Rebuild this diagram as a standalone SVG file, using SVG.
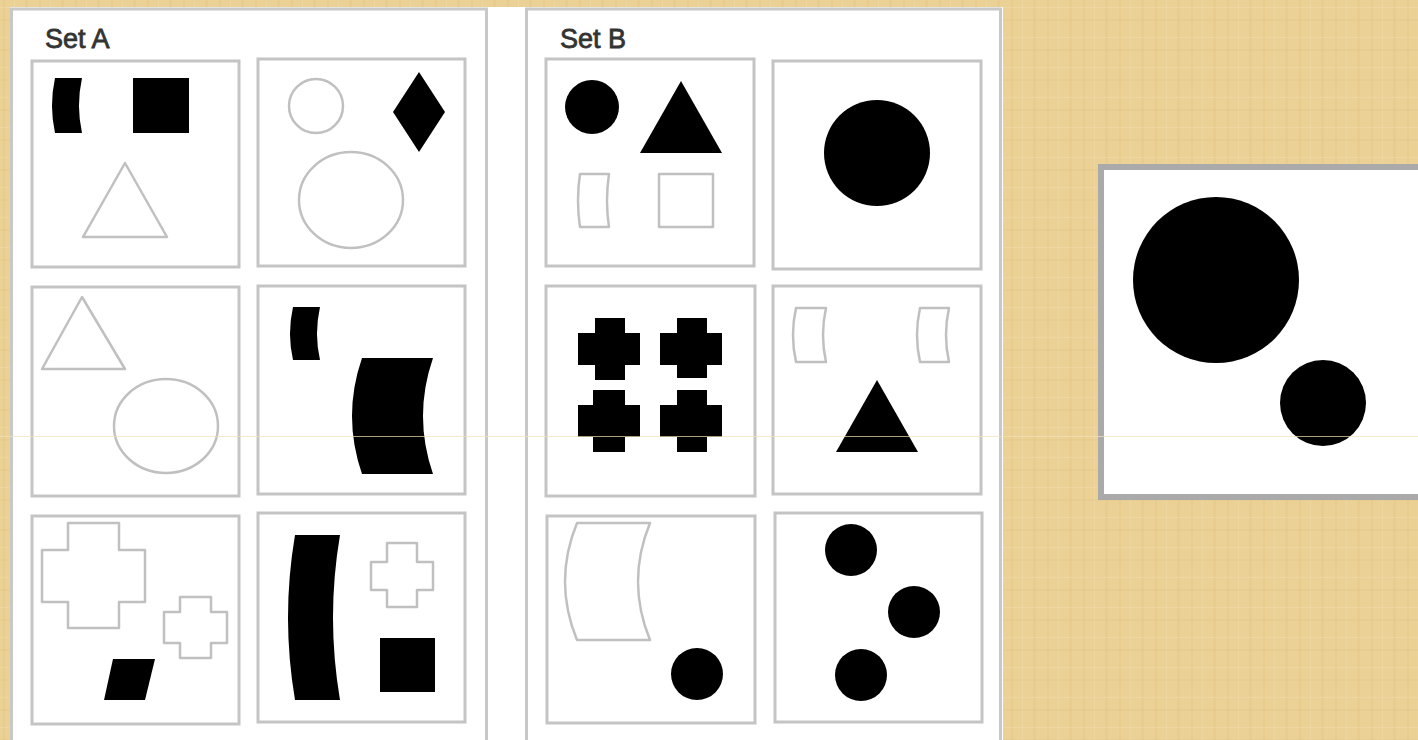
<svg xmlns="http://www.w3.org/2000/svg" width="1418" height="740" viewBox="0 0 1418 740">
<defs>
<pattern id="weave" x="0" y="0" width="36" height="30" patternUnits="userSpaceOnUse">
<rect width="36" height="30" fill="#ebd196"/>
<rect x="3" y="0" width="2" height="30" fill="#e2c27c" opacity="0.35"/>
<rect x="14" y="0" width="1" height="30" fill="#f3dcab" opacity="0.45"/>
<rect x="25" y="0" width="3" height="30" fill="#dfbf7c" opacity="0.25"/>
<rect x="0" y="7" width="36" height="1" fill="#f5dfb4" opacity="0.35"/>
<rect x="0" y="19" width="36" height="2" fill="#e0c080" opacity="0.25"/>
</pattern>
<style>
.panel{fill:none;stroke:#c8c8c8;stroke-width:3}
.cell{fill:#ffffff;stroke:#c4c4c4;stroke-width:3}
.blk{fill:#000000}
.out{fill:none;stroke:#c0c0c0;stroke-width:2.5;stroke-linejoin:round}
.title{font-family:"Liberation Sans",Arial,sans-serif;font-size:27px;fill:#333333;stroke:#333333;stroke-width:0.8}
</style>
</defs>
<rect width="1418" height="740" fill="url(#weave)"/>
<rect x="10" y="7" width="993" height="740" fill="#ffffff"/>

<g id="setA">
<rect class="panel" x="11.5" y="9" width="475" height="740"/>
<text class="title" x="45" y="48">Set A</text>
<g id="a1">
<rect class="cell" x="32" y="61" width="207" height="206"/>
<path class="blk" d="M55,78 H82 Q76,105.5 82,133 H55 Q49,105.5 55,78 Z"/>
<rect class="blk" x="133" y="78" width="56" height="55"/>
<polygon class="out" points="125,163 167,237 83,237"/>
</g>
<g id="a2">
<rect class="cell" x="258" y="59" width="207" height="207"/>
<circle class="out" cx="316" cy="106" r="27"/>
<polygon class="blk" points="419,72 445,112 419,152 393,112"/>
<ellipse class="out" cx="351" cy="200" rx="52" ry="48"/>
</g>
<g id="a3">
<rect class="cell" x="32" y="287" width="207" height="209"/>
<polygon class="out" points="82,297 125,369 42,369"/>
<ellipse class="out" cx="166" cy="426" rx="52" ry="47"/>
</g>
<g id="a4">
<rect class="cell" x="258" y="286" width="207" height="208"/>
<path class="blk" d="M293,307 H320 Q314,333.5 320,360 H293 Q287,333.5 293,307 Z"/>
<path class="blk" d="M362,358 H433 Q413,416 433,474 H362 Q342,416 362,358 Z"/>
</g>
<g id="a5">
<rect class="cell" x="32" y="516" width="207" height="208"/>
<polygon class="out" points="68,523 119,523 119,550 145,550 145,602 119,602 119,628 68,628 68,602 42,602 42,550 68,550"/>
<polygon class="out" points="180,597 211,597 211,612 227,612 227,643 211,643 211,658 180,658 180,643 164,643 164,612 180,612"/>
<polygon class="blk" points="113,659 155,659 145,700 104,700"/>
</g>
<g id="a6">
<rect class="cell" x="258" y="513" width="207" height="209"/>
<path class="blk" d="M295,535 H340 Q326,617.5 340,700 H295 Q281,617.5 295,535 Z"/>
<polygon class="out" points="387,543 417,543 417,562 433,562 433,590 417,590 417,607 387,607 387,590 371,590 371,562 387,562"/>
<rect class="blk" x="380" y="638" width="55" height="54"/>
</g>
</g>

<g id="setB">
<rect class="panel" x="526.5" y="9" width="474" height="740"/>
<text class="title" x="560" y="48">Set B</text>
<g id="b1">
<rect class="cell" x="546" y="59" width="208" height="207"/>
<circle class="blk" cx="592" cy="107" r="27"/>
<polygon class="blk" points="681,81 722,153 640,153"/>
<path class="out" d="M580,174 H609 Q605,200.5 609,227 H580 Q576,200.5 580,174 Z"/>
<rect class="out" x="659" y="174" width="54" height="53"/>
</g>
<g id="b2">
<rect class="cell" x="773" y="61" width="208" height="208"/>
<circle class="blk" cx="877" cy="153" r="53"/>
</g>
<g id="b3">
<rect class="cell" x="546" y="286" width="209" height="210"/>
<polygon class="blk" points="595,318 625,318 625,333 640,333 640,365 625,365 625,380 595,380 595,365 578,365 578,333 595,333"/>
<polygon class="blk" points="677,318 707,318 707,333 722,333 722,365 707,365 707,378 677,378 677,365 660,365 660,333 677,333"/>
<polygon class="blk" points="593,390 625,390 625,405 640,405 640,437 625,437 625,452 593,452 593,437 578,437 578,405 593,405"/>
<polygon class="blk" points="677,390 707,390 707,405 722,405 722,437 707,437 707,452 677,452 677,437 660,437 660,405 677,405"/>
</g>
<g id="b4">
<rect class="cell" x="773" y="286" width="208" height="208"/>
<path class="out" d="M796,308 H826 Q820,335 826,362 H796 Q790,335 796,308 Z"/>
<path class="out" d="M920,308 H949 Q943,335 949,362 H920 Q914,335 920,308 Z"/>
<polygon class="blk" points="877,380 918,452 836,452"/>
</g>
<g id="b5">
<rect class="cell" x="547" y="516" width="208" height="207"/>
<path class="out" d="M577,523 H650 Q626,581.5 650,640 H577 Q553,581.5 577,523 Z"/>
<circle class="blk" cx="697" cy="674" r="26"/>
</g>
<g id="b6">
<rect class="cell" x="775" y="513" width="207" height="209"/>
<circle class="blk" cx="851" cy="550" r="26"/>
<circle class="blk" cx="914" cy="612" r="26"/>
<circle class="blk" cx="861" cy="675" r="26"/>
</g>
</g>

<g id="answer">
<rect x="1101" y="167" width="340" height="330" fill="#ffffff" stroke="#aaaaaa" stroke-width="6"/>
<circle class="blk" cx="1216" cy="280" r="83"/>
<circle class="blk" cx="1323" cy="403" r="43"/>
</g>

<line x1="0" y1="436.5" x2="1418" y2="436.5" stroke="#f2e2b8" stroke-width="1" opacity="0.7"/>
</svg>
